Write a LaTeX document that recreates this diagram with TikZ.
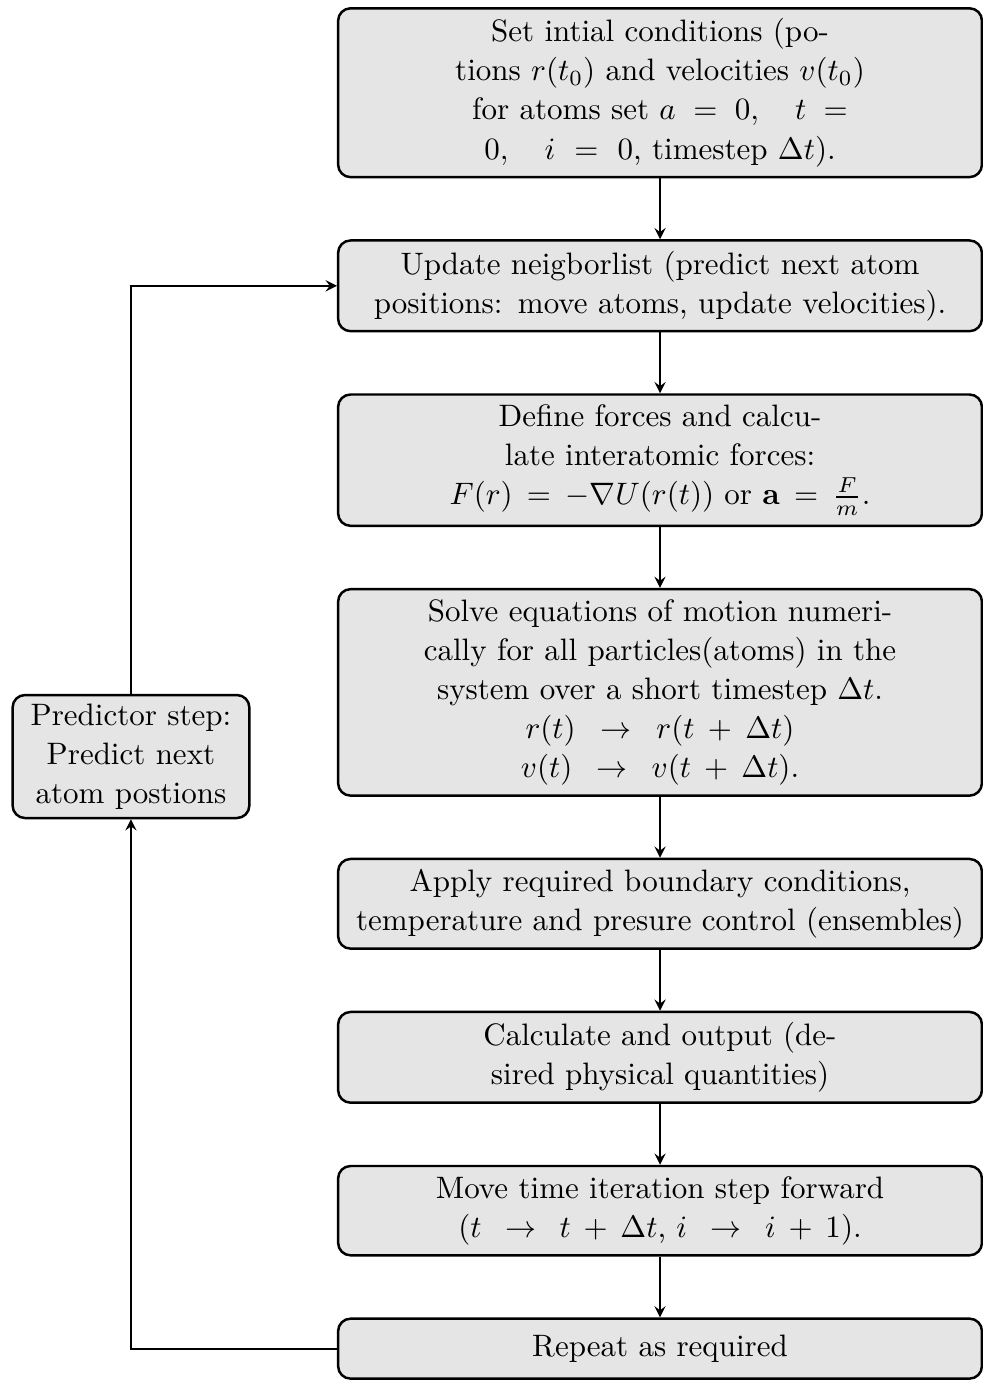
\documentclass[tikz,border=0pt]{standalone}
\usetikzlibrary{positioning}
\begin{document}
\begin{tikzpicture}[
  box/.style={rectangle, rounded corners, draw, thick, fill=gray!20,
              text width=7cm, minimum width=7.3cm, minimum height=0.68cm,
              align=center, font=\linespread{1.05}\selectfont},
  narrow/.style={box, text width=5.7cm},
  side/.style={box, text width=2.45cm, minimum width=0pt, inner ysep=2.8pt},
  arrow/.style={->, semithick, >=stealth}
]
\useasboundingbox (0,0) rectangle (11.135,-15.659);
\node[narrow, anchor=north] (init) at (7.484,-0.08) {Set intial conditions (po-\\tions $r(t_0)$ and velocities $v(t_0)$\\ for atoms set $a = 0, \quad t =$\\ $0, \quad i = 0$, timestep $\Delta t$).};
\node[box, below=0.69cm of init] (update) {Update neigborlist (predict next atom positions: move atoms, update velocities).};
\node[narrow, below=0.69cm of update] (forces) {Define forces and calculate interatomic forces: $F(r) = -\nabla U(r(t))$ or $\mathbf{a} = \frac{F}{m}$.};
\node[narrow, below=0.69cm of forces] (solve) {Solve equations of motion numerically for all particles(atoms) in the system over a short timestep $\Delta t$.\\ $r(t) \rightarrow r(t+\Delta t)$\\ $v(t) \rightarrow v(t+\Delta t)$.};
\node[box, below=0.69cm of solve] (apply) {Apply required boundary conditions, temperature and presure control (ensembles)};
\node[box, below=0.69cm of apply] (output) {Calculate and output (desired physical quantities)};
\node[box, below=0.69cm of output] (move) {Move time iteration step forward ($t \rightarrow t+\Delta t$, $i \rightarrow i+1$).};
\node[box, below=0.69cm of move] (repeat) {Repeat as required};
\node[side] (predict) at (1.485,-8.578) {Predictor step: Predict next atom postions};

\draw[arrow] (init) -- (update);
\draw[arrow] (update) -- (forces);
\draw[arrow] (forces) -- (solve);
\draw[arrow] (solve) -- (apply);
\draw[arrow] (apply) -- (output);
\draw[arrow] (output) -- (move);
\draw[arrow] (move) -- (repeat);
\draw[arrow] (repeat.west) -| (predict.south);
\draw[arrow] (predict.north) |- (update.west);
\end{tikzpicture}
\end{document}
